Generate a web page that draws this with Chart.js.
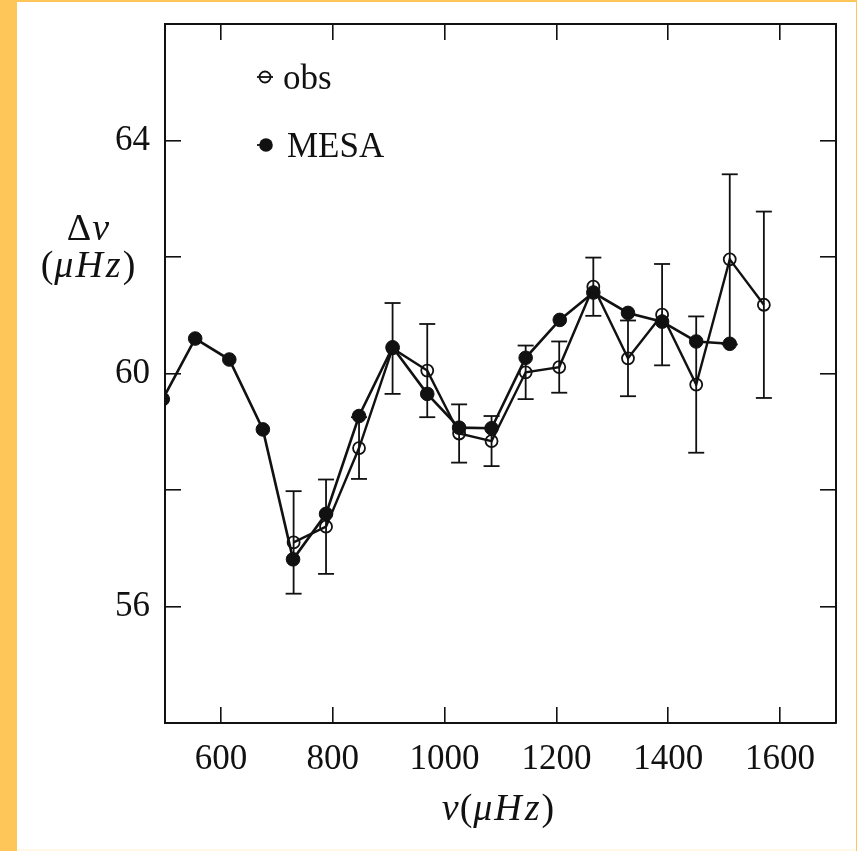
<!DOCTYPE html>
<html>
<head>
<meta charset="utf-8">
<script src="https://cdn.jsdelivr.net/npm/chart.js@4.4.1/dist/chart.umd.min.js"></script>
<style>
  html, body { margin: 0; padding: 0; background: #fec658; }
  canvas { display: block; }
</style>
</head>
<body>
<canvas id="chart" width="857" height="851"></canvas>
<script>
// Large frequency separation Δν against frequency ν (both in μHz)
const nuObs   = [730, 788, 847, 907, 969, 1026, 1084, 1145, 1205, 1266, 1328, 1389, 1450, 1510, 1571];
const dnuObs  = [57.10, 57.37, 58.72, 60.43, 60.05, 58.97, 58.84, 60.02, 60.11, 61.49, 60.26, 61.01, 59.81, 61.96, 61.18];
const errObs  = [0.88, 0.81, 0.53, 0.78, 0.80, 0.50, 0.43, 0.46, 0.44, 0.50, 0.65, 0.87, 1.17, 1.46, 1.60];

const nuMesa  = [496, 554, 615, 675, 729, 788, 847, 907, 969, 1026, 1084, 1145, 1206, 1266, 1328, 1389, 1450, 1510];
const dnuMesa = [59.56, 60.60, 60.24, 59.04, 56.81, 57.59, 59.27, 60.45, 59.65, 59.07, 59.06, 60.27, 60.92, 61.39, 61.04, 60.89, 60.55, 60.51];

const xTickValues  = [600, 800, 1000, 1200, 1400, 1600];
const yTickValues  = [56, 58, 60, 62, 64];
const yLabelValues = [56, 60, 64];

const X_MIN = 500, X_MAX = 1700, Y_MIN = 54, Y_MAX = 66;

const SERIF = "'Liberation Serif', 'DejaVu Serif', serif";
const INK = '#111';

// error bar segments: low point, high point, gap
const errSegments = [];
nuObs.forEach((x, i) => {
  errSegments.push({ x: x, y: dnuObs[i] - errObs[i] });
  errSegments.push({ x: x, y: dnuObs[i] + errObs[i] });
  errSegments.push({ x: x, y: null });
});

const obsPoints  = nuObs.map((x, i) => ({ x: x, y: dnuObs[i] }));
const mesaPoints = nuMesa.map((x, i) => ({ x: x, y: dnuMesa[i] }));

// frame axes: ticks point inward, labels only where wanted
function frameAxis(position, axis, values, showLabels, labelFilter, pad) {
  return {
    type: 'linear',
    position: position,
    axis: axis,
    min: axis === 'x' ? X_MIN : Y_MIN,
    max: axis === 'x' ? X_MAX : Y_MAX,
    afterBuildTicks: s => { s.ticks = values.map(v => ({ value: v })); },
    afterFit: s => {
      if (position === 'left') s.width = 165;
      else if (position === 'bottom') s.height = 128;
      else if (position === 'top') s.height = 0;
      else s.width = 0;
      s.paddingTop = 0; s.paddingBottom = 0;
      s.paddingLeft = 0; s.paddingRight = 0;
    },
    border: { display: true, color: INK, width: 2 },
    grid: { drawOnChartArea: false, drawTicks: true, tickLength: -16, color: INK, lineWidth: 1.6 },
    ticks: {
      display: showLabels,
      autoSkip: false,
      maxRotation: 0,
      padding: pad,
      color: INK,
      font: { family: SERIF, size: 35 },
      callback: v => (labelFilter(v) ? String(v) : '')
    }
  };
}

// draws a math-style string made of upright and italic pieces
function drawRich(ctx, parts, cx, baseline, size) {
  const fontUp = size + 'px ' + SERIF;
  const fontIt = 'italic ' + size + 'px ' + SERIF;
  let total = 0;
  parts.forEach(p => {
    ctx.font = p.it ? fontIt : fontUp;
    p.w = ctx.measureText(p.t).width + (p.gap || 0);
    total += p.w;
  });
  let x = cx - total / 2;
  ctx.textAlign = 'left';
  ctx.textBaseline = 'alphabetic';
  parts.forEach(p => {
    ctx.font = p.it ? fontIt : fontUp;
    ctx.fillText(p.t, x, baseline);
    x += p.w;
  });
}

const decorPlugin = {
  id: 'decor',
  beforeDraw(chart) {
    const ctx = chart.ctx;
    ctx.save();
    ctx.fillStyle = '#fec658';
    ctx.fillRect(0, 0, chart.width, chart.height);
    ctx.fillStyle = '#fff8e8';
    ctx.fillRect(17, 848, 839, 3);
    ctx.fillStyle = '#ffffff';
    ctx.fillRect(17, 2, 839, 847);
    ctx.restore();
  },
  afterDraw(chart) {
    const ctx = chart.ctx;
    ctx.save();
    ctx.fillStyle = INK;

    // axis titles
    drawRich(ctx, [{ t: 'Δ', it: false, gap: 1 }, { t: 'ν', it: true }], 88, 240, 38);
    drawRich(ctx, [
      { t: '(', it: false, gap: 1 }, { t: 'μ', it: true, gap: 2 }, { t: 'H', it: true, gap: 3 },
      { t: 'z', it: true, gap: 2 }, { t: ')', it: false }
    ], 88, 277, 38);
    drawRich(ctx, [
      { t: 'ν', it: true, gap: 1 }, { t: '(', it: false, gap: 1 }, { t: 'μ', it: true, gap: 2 },
      { t: 'H', it: true, gap: 3 }, { t: 'z', it: true, gap: 2 }, { t: ')', it: false }
    ], 498, 820, 38);

    // legend
    const ds = chart.data.datasets;
    ctx.strokeStyle = INK;
    ctx.lineWidth = 1.8;
    ctx.beginPath(); ctx.moveTo(257, 77); ctx.lineTo(273, 77); ctx.stroke();
    ctx.beginPath(); ctx.arc(265, 77, 5.5, 0, Math.PI * 2); ctx.stroke();
    ctx.beginPath(); ctx.moveTo(257, 145); ctx.lineTo(266, 145); ctx.stroke();
    ctx.beginPath(); ctx.arc(266, 145, 6.8, 0, Math.PI * 2); ctx.fill();

    ctx.font = '35px ' + SERIF;
    ctx.textAlign = 'left';
    ctx.textBaseline = 'alphabetic';
    ctx.fillText(ds[1].label, 283, 89);
    ctx.fillText(ds[2].label, 287, 157);
    ctx.restore();
  }
};

new Chart(document.getElementById('chart'), {
  type: 'scatter',
  data: {
    datasets: [
      {
        label: 'err',
        data: errSegments,
        showLine: true,
        spanGaps: false,
        borderColor: INK,
        borderWidth: 1.8,
        pointStyle: 'line',
        pointRadius: 8,
        pointBorderColor: INK,
        pointBorderWidth: 1.8,
        order: 3
      },
      {
        label: 'obs',
        data: obsPoints,
        showLine: true,
        borderColor: INK,
        borderWidth: 2.4,
        pointStyle: 'circle',
        pointRadius: 6,
        pointBackgroundColor: 'rgba(255,255,255,0)',
        pointBorderColor: INK,
        pointBorderWidth: 1.8,
        order: 2
      },
      {
        label: 'MESA',
        data: mesaPoints,
        showLine: true,
        borderColor: INK,
        borderWidth: 2.6,
        pointStyle: 'circle',
        pointRadius: 6.8,
        pointBackgroundColor: INK,
        pointBorderColor: INK,
        pointBorderWidth: 1,
        order: 1
      }
    ]
  },
  options: {
    responsive: false,
    animation: false,
    devicePixelRatio: 1,
    layout: { padding: { left: 0, right: 21, top: 24, bottom: 0 } },
    plugins: { legend: { display: false }, tooltip: { enabled: false } },
    scales: {
      x:  frameAxis('bottom', 'x', xTickValues, true, v => xTickValues.includes(v), 32),
      x2: frameAxis('top', 'x', xTickValues, false, () => false, 0),
      y:  frameAxis('left', 'y', yTickValues, true, v => yLabelValues.includes(v), 31),
      y2: frameAxis('right', 'y', yTickValues, false, () => false, 0)
    }
  },
  plugins: [decorPlugin]
});
</script>
</body>
</html>
